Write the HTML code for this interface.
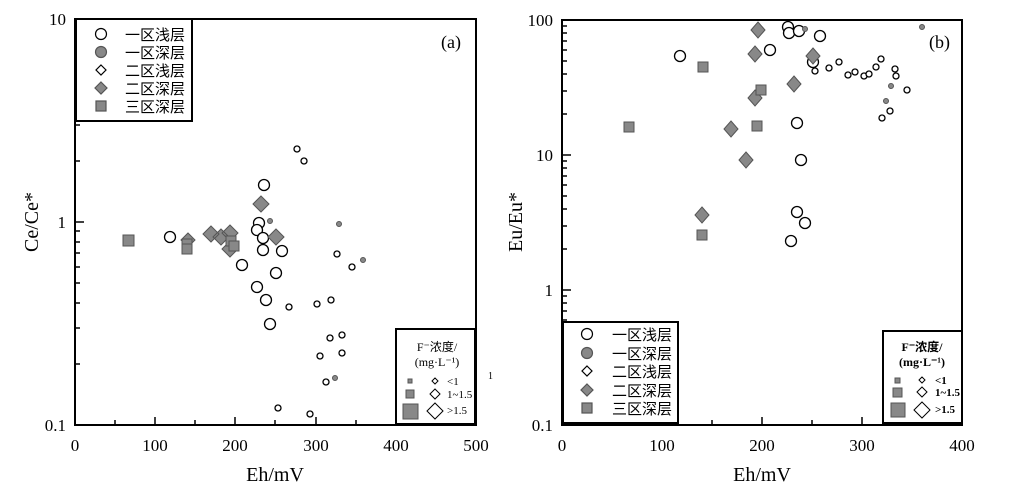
<!DOCTYPE html>
<html><head><meta charset="utf-8"><style>
body{margin:0;background:#fff}
text{font-family:"Liberation Serif","Noto Serif CJK SC",serif;fill:#000}
.c{font-family:"Liberation Serif","Noto Sans CJK SC",serif}
</style></head><body>
<svg width="1025" height="495" xmlns="http://www.w3.org/2000/svg">
<g stroke="#000" fill="none">
<rect x="75" y="19" width="401" height="406" stroke-width="2"/>
<rect x="562" y="20" width="400" height="405" stroke-width="2"/>
<path stroke-width="1.5" d="M75 19h9M75 222h9M75 425h9
M75 161h5M75 125h5M75 100h5M75 80h5M75 64h5M75 50h5M75 39h5M75 28h5
M75 364h5M75 328h5M75 303h5M75 283h5M75 267h5M75 253h5M75 242h5M75 231h5
M155 425v-8M235 425v-8M316 425v-8M396 425v-8
M115 425v-5M195 425v-5M275 425v-5M356 425v-5M436 425v-5"/>
<path stroke-width="1.5" d="M562 20h9M562 155h9M562 290h9
M562 384h5M562 361h5M562 344h5M562 331h5M562 320h5M562 311h5M562 303h5M562 296h5
M562 249h5M562 226h5M562 209h5M562 196h5M562 185h5M562 176h5M562 168h5M562 161h5
M562 114h5M562 91h5M562 74h5M562 61h5M562 50h5M562 41h5M562 33h5M562 26h5
M662 425v-8M762 425v-8M862 425v-8M612 425v-5M712 425v-5M812 425v-5M912 425v-5"/>
</g>
<g font-size="17">
<text x="66" y="25" text-anchor="end">10</text>
<text x="66" y="228" text-anchor="end">1</text>
<text x="66" y="431" text-anchor="end">0.1</text>
<text x="75" y="451" text-anchor="middle">0</text>
<text x="155" y="451" text-anchor="middle">100</text>
<text x="235" y="451" text-anchor="middle">200</text>
<text x="316" y="451" text-anchor="middle">300</text>
<text x="396" y="451" text-anchor="middle">400</text>
<text x="476" y="451" text-anchor="middle">500</text>
<text x="553" y="26" text-anchor="end">100</text>
<text x="553" y="161" text-anchor="end">10</text>
<text x="553" y="296" text-anchor="end">1</text>
<text x="553" y="431" text-anchor="end">0.1</text>
<text x="562" y="451" text-anchor="middle">0</text>
<text x="662" y="451" text-anchor="middle">100</text>
<text x="762" y="451" text-anchor="middle">200</text>
<text x="862" y="451" text-anchor="middle">300</text>
<text x="962" y="451" text-anchor="middle">400</text>
</g>
<text x="275" y="481" font-size="20" text-anchor="middle">Eh/mV</text>
<text x="762" y="481" font-size="20" text-anchor="middle">Eh/mV</text>
<text transform="translate(38,222) rotate(-90)" font-size="20" text-anchor="middle">Ce/Ce*</text>
<text transform="translate(522,222) rotate(-90)" font-size="20" text-anchor="middle">Eu/Eu*</text>
<text x="441" y="48" font-size="18">(a)</text>
<text x="929" y="48" font-size="18">(b)</text>
<text x="488" y="379" font-size="10">1</text>

<g stroke="#000" stroke-width="1.3" fill="#fff">
<circle cx="264" cy="185" r="5.5"/><circle cx="259" cy="223" r="5.5"/><circle cx="257" cy="230" r="5.5"/><circle cx="263" cy="238" r="5.5"/><circle cx="263" cy="250" r="5.5"/><circle cx="282" cy="251" r="5.5"/><circle cx="242" cy="265" r="5.5"/><circle cx="276" cy="273" r="5.5"/><circle cx="257" cy="287" r="5.5"/><circle cx="266" cy="300" r="5.5"/><circle cx="270" cy="324" r="5.5"/><circle cx="170" cy="237" r="5.5"/>
<circle cx="297" cy="149" r="3"/><circle cx="304" cy="161" r="3"/><circle cx="337" cy="254" r="3"/><circle cx="352" cy="267" r="3"/><circle cx="289" cy="307" r="3"/><circle cx="317" cy="304" r="3"/><circle cx="331" cy="300" r="3"/><circle cx="342" cy="335" r="3"/><circle cx="330" cy="338" r="3"/><circle cx="320" cy="356" r="3"/><circle cx="342" cy="353" r="3"/><circle cx="326" cy="382" r="3"/><circle cx="278" cy="408" r="3"/><circle cx="310" cy="414" r="3"/>
</g>
<g stroke="#555" stroke-width="1" fill="#888">
<circle cx="270" cy="221" r="2.5"/><circle cx="339" cy="224" r="2.5"/><circle cx="363" cy="260" r="2.5"/><circle cx="335" cy="378" r="2.5"/>
<path d="M261 196l8 8-8 8-8-8zM211 226l8 8-8 8-8-8zM221 229l8 8-8 8-8-8zM230 225l8 8-8 8-8-8zM276 229l8 8-8 8-8-8zM230 241l8 8-8 8-8-8zM188 233l7 7-7 7-7-7z"/>
<rect x="123" y="235" width="11" height="11"/><rect x="182" y="239" width="10" height="10"/><rect x="182" y="244" width="10" height="10"/><rect x="226" y="236" width="10" height="10"/><rect x="229" y="241" width="10" height="10"/>
</g>
<g stroke="#000" stroke-width="1.3" fill="#fff">
<circle cx="680" cy="56" r="5.5"/><circle cx="770" cy="50" r="5.5"/><circle cx="788" cy="27" r="5.5"/><circle cx="789" cy="33" r="5.5"/><circle cx="799" cy="31" r="5.5"/><circle cx="820" cy="36" r="5.5"/><circle cx="813" cy="62" r="5.5"/><circle cx="797" cy="123" r="5.5"/><circle cx="801" cy="160" r="5.5"/><circle cx="797" cy="212" r="5.5"/><circle cx="805" cy="223" r="5.5"/><circle cx="791" cy="241" r="5.5"/>
<circle cx="815" cy="71" r="3"/><circle cx="829" cy="68" r="3"/><circle cx="839" cy="62" r="3"/><circle cx="848" cy="75" r="3"/><circle cx="855" cy="72" r="3"/><circle cx="864" cy="76" r="3"/><circle cx="869" cy="74" r="3"/><circle cx="876" cy="67" r="3"/><circle cx="881" cy="59" r="3"/><circle cx="895" cy="69" r="3"/><circle cx="896" cy="76" r="3"/><circle cx="907" cy="90" r="3"/><circle cx="890" cy="111" r="3"/><circle cx="882" cy="118" r="3"/>
</g>
<g stroke="#555" stroke-width="1" fill="#888">
<circle cx="922" cy="27" r="2.5"/><circle cx="805" cy="29" r="2.5"/><circle cx="891" cy="86" r="2.5"/><circle cx="886" cy="101" r="2.5"/>
<path d="M758 22l7 8-7 8-7-8zM755 46l7 8-7 8-7-8zM813 48l7 8-7 8-7-8zM794 76l7 8-7 8-7-8zM755 90l7 8-7 8-7-8zM731 121l7 8-7 8-7-8zM746 152l7 8-7 8-7-8zM702 207l7 8-7 8-7-8z"/>
<rect x="698" y="62" width="10" height="10"/><rect x="756" y="85" width="10" height="10"/><rect x="624" y="122" width="10" height="10"/><rect x="752" y="121" width="10" height="10"/><rect x="697" y="230" width="10" height="10"/>
</g>

<rect x="76" y="19" width="116" height="102" fill="#fff" stroke="#000" stroke-width="2"/>
<g stroke="#000" stroke-width="1.2">
<circle cx="101" cy="34" r="5.5" fill="#fff"/>
<circle cx="101" cy="52" r="5.5" fill="#888" stroke="#555"/>
<path d="M101 65l5 5-5 5-5-5z" fill="#fff"/>
<path d="M101 82l6 6-6 6-6-6z" fill="#888" stroke="#555"/>
<rect x="96" y="101" width="10" height="10" fill="#888" stroke="#555"/>
</g>
<g font-size="15">
<text x="125" y="40" class="c">一区浅层</text><text x="125" y="58" class="c">一区深层</text><text x="125" y="76" class="c">二区浅层</text><text x="125" y="94" class="c">二区深层</text><text x="125" y="112" class="c">三区深层</text>
</g>
<rect x="396" y="329" width="79" height="95" fill="#fff" stroke="#000" stroke-width="2"/>
<text x="437" y="351" font-size="12" text-anchor="middle" class="c">F⁻浓度/</text>
<text x="437" y="366" font-size="12" text-anchor="middle">(mg·L⁻¹)</text>
<g stroke="#555" fill="#888"><rect x="408" y="379" width="4" height="4"/><rect x="406" y="390" width="8" height="8"/><rect x="403" y="404" width="15" height="15"/></g>
<g stroke="#000" fill="#fff"><path d="M435 378l3 3-3 3-3-3zM435 389l5 5-5 5-5-5zM435 403l8 8-8 8-8-8z"/></g>
<g font-size="11"><text x="447" y="385">&lt;1</text><text x="447" y="398">1~1.5</text><text x="447" y="414">&gt;1.5</text></g>

<rect x="563" y="322" width="115" height="101" fill="#fff" stroke="#000" stroke-width="2"/>
<g stroke="#000" stroke-width="1.2">
<circle cx="587" cy="334" r="5.5" fill="#fff"/>
<circle cx="587" cy="353" r="5.5" fill="#888" stroke="#555"/>
<path d="M587 366l5 5-5 5-5-5z" fill="#fff"/>
<path d="M587 384l6 6-6 6-6-6z" fill="#888" stroke="#555"/>
<rect x="582" y="403" width="10" height="10" fill="#888" stroke="#555"/>
</g>
<g font-size="15">
<text x="612" y="340" class="c">一区浅层</text><text x="612" y="359" class="c">一区深层</text><text x="612" y="377" class="c">二区浅层</text><text x="612" y="396" class="c">二区深层</text><text x="612" y="414" class="c">三区深层</text>
</g>
<rect x="883" y="331" width="79" height="92" fill="#fff" stroke="#000" stroke-width="2"/>
<text x="922" y="351" font-size="12" font-weight="bold" text-anchor="middle" class="c">F⁻浓度/</text>
<text x="922" y="366" font-size="12" font-weight="bold" text-anchor="middle">(mg·L⁻¹)</text>
<g stroke="#555" fill="#888"><rect x="895" y="378" width="5" height="5"/><rect x="893" y="388" width="9" height="9"/><rect x="891" y="403" width="14" height="14"/></g>
<g stroke="#000" fill="#fff"><path d="M922 377l3 3-3 3-3-3zM922 387l5 5-5 5-5-5zM922 402l8 8-8 8-8-8z"/></g>
<g font-size="11" font-weight="bold"><text x="935" y="384">&lt;1</text><text x="935" y="396">1~1.5</text><text x="935" y="413">&gt;1.5</text></g>
</svg>
</body></html>
